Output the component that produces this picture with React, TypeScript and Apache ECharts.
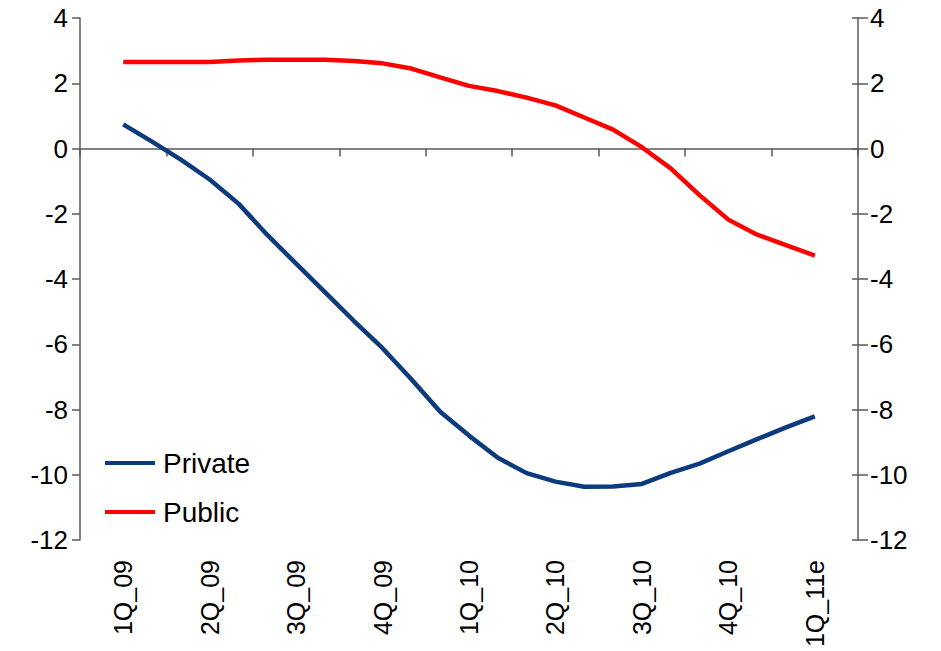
import React, { useEffect, useRef } from "react";
import * as echarts from "echarts";

// Quarter labels (shown every third month on the axis)
const quarterLabels = ["1Q_09", "2Q_09", "3Q_09", "4Q_09", "1Q_10", "2Q_10", "3Q_10", "4Q_10", "1Q_11e"];

// Monthly values, from 1Q_09 to 1Q_11e (25 points)
const privateValues = [
  0.74, 0.21, -0.34, -0.95, -1.69, -2.65, -3.53, -4.4, -5.28, -6.12, -7.07, -8.07, -8.8,
  -9.48, -9.95, -10.21, -10.37, -10.36, -10.28, -9.94, -9.66, -9.28, -8.91, -8.55, -8.21,
];
const publicValues = [
  2.65, 2.65, 2.65, 2.65, 2.7, 2.72, 2.72, 2.72, 2.68, 2.61, 2.45, 2.18, 1.92,
  1.76, 1.56, 1.32, 0.95, 0.58, 0.04, -0.61, -1.43, -2.18, -2.64, -2.96, -3.28,
];

const yTicks = { min: -12, max: 4, interval: 2 };

const FONT = "'Liberation Sans', Arial, sans-serif";
const AXIS_COLOR = "#5a5a5a";

export default function App() {
  const ref = useRef<HTMLDivElement>(null);

  useEffect(() => {
    if (!ref.current) return;
    const chart = echarts.init(ref.current, undefined, { renderer: "svg" });

    // 27 monthly slots: an empty slot before the first and after the last point
    const slots: string[] = [];
    for (let i = 0; i < 27; i++) {
      slots.push(i % 3 === 1 ? quarterLabels[(i - 1) / 3] : "");
    }
    const pad = (arr: number[]) => [null, ...arr, null];

    const yBase = {
      type: "value" as const,
      min: yTicks.min,
      max: yTicks.max,
      interval: yTicks.interval,
      splitLine: { show: false },
    };

    chart.setOption({
      animation: false,
      backgroundColor: "#ffffff",
      textStyle: { fontFamily: FONT },
      grid: { left: 80, right: 83, top: 18, bottom: 111, containLabel: false },
      legend: {
        orient: "vertical",
        left: 105,
        top: 449,
        padding: 0,
        icon: "rect",
        itemWidth: 50,
        itemHeight: 4,
        itemGap: 21,
        textStyle: { fontSize: 28, color: "#000", fontFamily: FONT, lineHeight: 28, padding: [0, 0, 0, 3] },
        data: ["Private", "Public"],
      },
      xAxis: [
        {
          type: "category",
          data: slots,
          boundaryGap: true,
          position: "bottom",
          axisLine: { show: true, onZero: true, lineStyle: { color: AXIS_COLOR, width: 1.5 } },
          axisTick: {
            show: true,
            length: 8,
            interval: (i: number) => i % 3 === 0,
            lineStyle: { color: AXIS_COLOR, width: 1.5 },
          },
          axisLabel: { show: false },
          splitLine: { show: false },
        },
        {
          type: "category",
          data: slots,
          boundaryGap: true,
          position: "bottom",
          axisLine: { show: false, onZero: false },
          axisTick: { show: false },
          axisLabel: {
            show: true,
            interval: (i: number) => i % 3 === 1,
            rotate: 90,
            margin: 20,
            fontSize: 25,
            color: "#000",
            fontFamily: FONT,
          },
          splitLine: { show: false },
        },
      ],
      yAxis: [
        {
          ...yBase,
          position: "left",
          axisLine: { show: true, lineStyle: { color: AXIS_COLOR, width: 1.5 } },
          axisTick: { show: true, length: 8, lineStyle: { color: AXIS_COLOR, width: 1.5 } },
          axisLabel: { fontSize: 26, color: "#000", margin: 12, fontFamily: FONT },
        },
        {
          ...yBase,
          position: "right",
          axisLine: { show: true, lineStyle: { color: AXIS_COLOR, width: 1.5 } },
          axisTick: { show: true, length: 10, lineStyle: { color: AXIS_COLOR, width: 1.5 } },
          axisLabel: { fontSize: 26, color: "#000", margin: 12, fontFamily: FONT },
        },
        {
          ...yBase,
          position: "right",
          axisLine: { show: false },
          axisTick: { show: true, inside: true, length: 6, lineStyle: { color: AXIS_COLOR, width: 1.5 } },
          axisLabel: { show: false },
        },
      ],
      series: [
        {
          name: "Private",
          type: "line",
          xAxisIndex: 0,
          yAxisIndex: 0,
          data: pad(privateValues),
          symbol: "none",
          connectNulls: false,
          lineStyle: { color: "#0B3A7E", width: 4.5 },
          itemStyle: { color: "#0B3A7E" },
        },
        {
          name: "Public",
          type: "line",
          xAxisIndex: 0,
          yAxisIndex: 0,
          data: pad(publicValues),
          symbol: "none",
          lineStyle: { color: "#FF0000", width: 4.5 },
          itemStyle: { color: "#FF0000" },
        },
      ],
    });

    return () => chart.dispose();
  }, []);

  return (
    <div
      ref={ref}
      style={{ position: "fixed", left: 0, top: 0, width: 941, height: 651 }}
    />
  );
}
